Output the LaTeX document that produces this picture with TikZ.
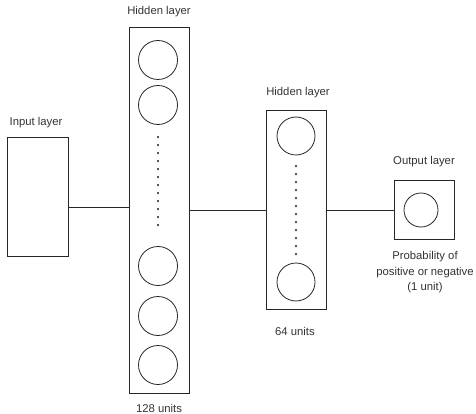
\documentclass[tikz,border=0pt]{standalone}
\usepackage{fontspec}
\setmainfont{Liberation Sans}
\begin{document}
\begin{tikzpicture}[x=1pt,y=-1pt,
  layerbox/.style={draw=black!85,line width=0.8pt,rectangle,inner sep=0pt,minimum width=#1},
  neuron/.style={draw=black!85,line width=0.8pt,circle,inner sep=0pt,minimum size=#1},
  lbl/.style={font=\fontsize{11.3}{13.5}\selectfont,text=black!80,inner sep=0pt,align=center},
  conn/.style={draw=black!85,line width=0.8pt},
  dotmark/.style={fill=black!90,circle,inner sep=0pt,minimum size=2.2pt}]
\useasboundingbox (0,0) rectangle (476,414);
% boxes
\node[layerbox=61pt,minimum height=119pt] (in) at (37.5,196.5) {};
\node[layerbox=60pt,minimum height=366pt] (h1) at (159,210) {};
\node[layerbox=60pt,minimum height=199pt] (h2) at (296,210) {};
\node[layerbox=60pt,minimum height=59pt] (out) at (424,210) {};
% neurons
\node[neuron=39pt] (n1) at (158,60) {};
\node[neuron=39pt] (n2) at (158,105) {};
\node[neuron=39pt] (n3) at (158,266) {};
\node[neuron=39pt] (n4) at (158,316) {};
\node[neuron=39pt] (n5) at (158,365) {};
\node[neuron=38pt] (m1) at (296,136) {};
\node[neuron=38pt] (m2) at (296,282) {};
\node[neuron=34pt] (o1) at (421,210) {};
% dots
\foreach \i in {0,...,11}{
  \node[dotmark] (d\i) at (158,137+8*\i) {};
  \node[dotmark] (e\i) at (296,166+8*\i) {};
}
% labels
\node[lbl] (lin) at (36,123) {Input layer};
\node[lbl] (lh1) at (159,12) {Hidden layer};
\node[lbl] (lu1) at (159,408) {128 units};
\node[lbl] (lh2) at (298,93) {Hidden layer};
\node[lbl] (lu2) at (295,331) {64 units};
\node[lbl] (lout) at (424,162) {Output layer};
\node[lbl,font=\fontsize{11.3}{15.5}\selectfont] (lp) at (425,272.5) {Probability of\\positive or negative\\(1 unit)};
% connectors
\draw[conn] ([yshift=-10.5pt]in.east) coordinate (a) -- (a -| h1.west);
\draw[conn] (h1.east) -- (h2.west);
\draw[conn] (h2.east) -- (out.west);
\end{tikzpicture}
\end{document}
